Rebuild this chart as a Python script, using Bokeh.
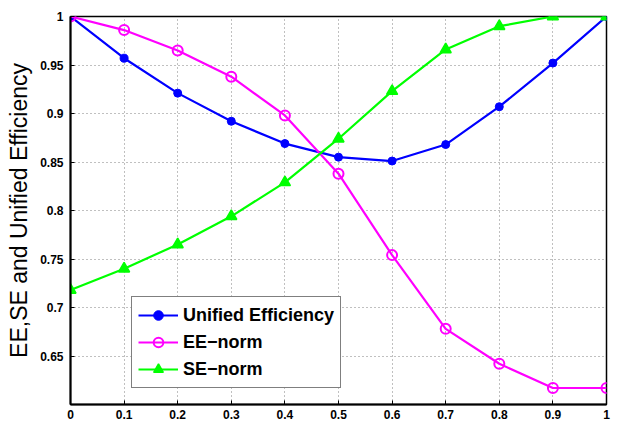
from bokeh.plotting import figure
from bokeh.models import Range1d, FixedTicker, Legend, LegendItem, Label
from bokeh.embed import file_html
from bokeh.resources import INLINE

omega = [0.0, 0.1, 0.2, 0.3, 0.4, 0.5, 0.6, 0.7, 0.8, 0.9, 1.0]
unified = [1.0, 0.957, 0.921, 0.892, 0.869, 0.855, 0.851, 0.868, 0.907, 0.952, 1.0]
ee_norm = [1.0, 0.986, 0.965, 0.938, 0.898, 0.838, 0.754, 0.678, 0.642, 0.617, 0.617]
se_norm = [0.718, 0.740, 0.765, 0.794, 0.829, 0.874, 0.923, 0.966, 0.990, 1.0, 1.0]

x_ticks = [0.0, 0.1, 0.2, 0.3, 0.4, 0.5, 0.6, 0.7, 0.8, 0.9, 1.0]
x_tick_labels = ["0", "0.1", "0.2", "0.3", "0.4", "0.5", "0.6", "0.7", "0.8", "0.9", "1"]
y_ticks = [0.65, 0.7, 0.75, 0.8, 0.85, 0.9, 0.95, 1.0]
y_tick_labels = ["0.65", "0.7", "0.75", "0.8", "0.85", "0.9", "0.95", "1"]

FONT = "Liberation Sans"

p = figure(width=622, height=441, output_backend="svg", toolbar_location=None,
           x_range=Range1d(0, 1), y_range=Range1d(0.6, 1.0),
           min_border_left=70, min_border_right=16, min_border_top=16, min_border_bottom=37)
p.background_fill_color = "white"
p.border_fill_color = "white"
p.outline_line_color = "black"
p.outline_line_width = 1.5

for ax, ticks, labels in ((p.xaxis[0], x_ticks, x_tick_labels), (p.yaxis[0], y_ticks, y_tick_labels)):
    ax.ticker = FixedTicker(ticks=ticks)
    ax.major_label_overrides = {t: l for t, l in zip(ticks, labels)}
    ax.major_tick_in = 4
    ax.major_tick_out = 0
    ax.minor_tick_in = 0
    ax.minor_tick_out = 0
    ax.axis_line_width = 2
    ax.axis_line_color = "black"
    ax.major_tick_line_color = "black"
    ax.major_label_text_font = FONT
    ax.major_label_text_font_style = "bold"
    ax.major_label_text_font_size = "12px"
    ax.major_label_text_color = "black"

p.xaxis.major_label_standoff = 5
p.yaxis.major_label_standoff = 7
p.yaxis.axis_label = "EE,SE and Unified Efficiency"
p.yaxis.axis_label_text_font = FONT
p.yaxis.axis_label_text_font_style = "normal"
p.yaxis.axis_label_text_font_size = "23px"
p.yaxis.axis_label_text_color = "black"
p.yaxis.axis_label_standoff = 5

for g in (p.xgrid[0], p.ygrid[0]):
    g.grid_line_color = "#808080"
    g.grid_line_dash = "1 3"
    g.grid_line_width = 1
p.xgrid[0].ticker = FixedTicker(ticks=x_ticks)
p.ygrid[0].ticker = FixedTicker(ticks=y_ticks)

l1 = p.line(omega, unified, line_color="#0000ff", line_width=2.2)
m1 = p.scatter(omega, unified, marker="circle", size=8, fill_color="#0000ff", line_color="#0000ff")
l2 = p.line(omega, ee_norm, line_color="#ff00ff", line_width=2.2)
m2 = p.scatter(omega, ee_norm, marker="circle", size=10, fill_color=None, line_color="#ff00ff", line_width=2)
l3 = p.line(omega, se_norm, line_color="#00ff00", line_width=2.2)
m3 = p.scatter(omega, se_norm, marker="triangle", size=11, fill_color="#00ff00", line_color="#00ff00", line_width=1.5)

legend = Legend(items=[
    LegendItem(label="Unified Efficiency", renderers=[l1, m1]),
    LegendItem(label="EE\u2212norm", renderers=[l2, m2]),
    LegendItem(label="SE\u2212norm", renderers=[l3, m3]),
], location=(61, 16))
legend.label_text_font = FONT
legend.label_text_font_style = "bold"
legend.label_text_font_size = "18px"
legend.label_text_color = "black"
legend.label_height = 24
legend.glyph_height = 24
legend.glyph_width = 40
legend.label_standoff = 5
legend.padding = 6
legend.spacing = 3
legend.margin = 0
legend.border_line_color = "black"
legend.border_line_width = 1.5
legend.background_fill_color = "white"
legend.background_fill_alpha = 1.0
p.add_layout(legend, "center")

xlab = Label(x=0.5, y=-21, x_units="data", y_units="screen", text="\u03c9",
             text_align="center", text_baseline="top", text_font=FONT,
             text_font_style="bold", text_font_size="13px", text_color="black")
p.add_layout(xlab)

open("out.html", "w").write(file_html(p, INLINE))
